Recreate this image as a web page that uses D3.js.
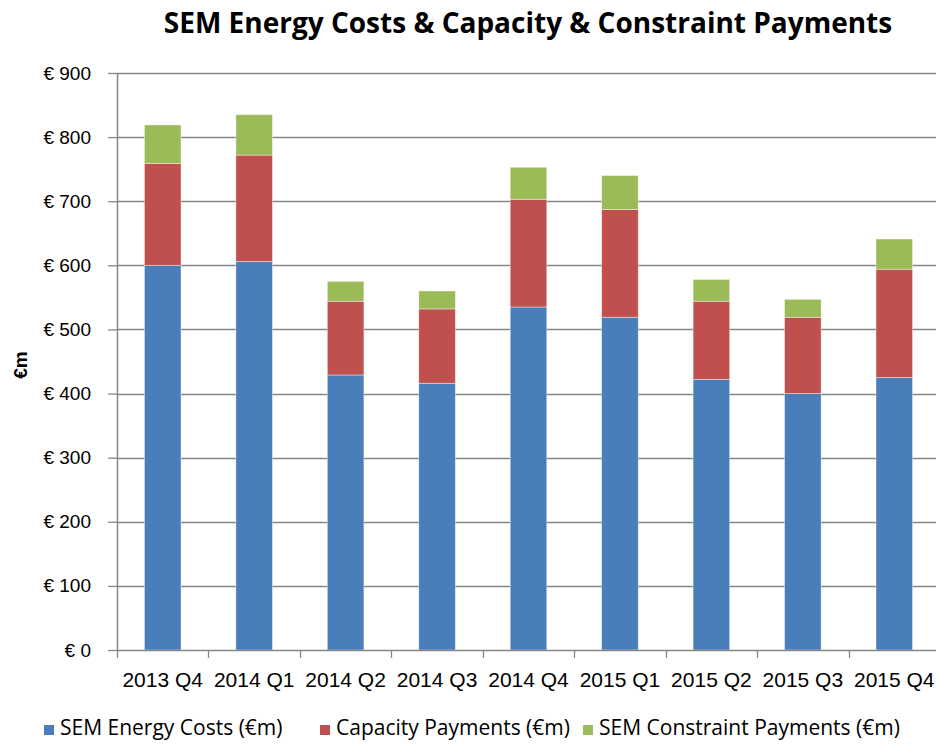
<!DOCTYPE html>
<html>
<head>
<meta charset="utf-8">
<script src="https://cdn.jsdelivr.net/npm/d3@7"></script>
<style>
  body { margin: 0; background: #fff; overflow: hidden; }
  svg { display: block; }
</style>
</head>
<body>
<div class="chart"></div>
<script>
// quarters along the x axis
const quarters = ['2013 Q4', '2014 Q1', '2014 Q2', '2014 Q3', '2014 Q4', '2015 Q1', '2015 Q2', '2015 Q3', '2015 Q4']

// series values (€m)
const energyCosts = [600, 606, 429, 416, 535, 519, 422, 400, 425]
const capacityPayments = [159, 166, 115, 116, 168, 168, 122, 119, 169]
const constraintPayments = [60, 63, 31, 28, 50, 53, 34, 28, 47]

const seriesNames = ['SEM Energy Costs (€m)', 'Capacity Payments (€m)', 'SEM Constraint Payments (€m)']
const seriesColors = ['#4a7ebb', '#c0504d', '#9bbb59']
const yTicks = [0, 100, 200, 300, 400, 500, 600, 700, 800, 900]

const width = 936
const height = 744
const margin = { top: 73, right: -4, bottom: 94, left: 117 }
const innerWidth = width - margin.left - margin.right
const innerHeight = height - margin.top - margin.bottom

const svg = d3.select('.chart')
  .append('svg')
  .attr('width', width)
  .attr('height', height)

const g = svg.append('g')
  .attr('transform', `translate(${margin.left},${margin.top})`)

// build rows for the stack
const rows = quarters.map((q, i) => ({
  quarter: q,
  energy: energyCosts[i],
  capacity: capacityPayments[i],
  constraint: constraintPayments[i]
}))
const keys = ['energy', 'capacity', 'constraint']
const stacked = d3.stack().keys(keys)(rows)

const x = d3.scaleBand()
  .domain(quarters)
  .range([0, innerWidth])
  .paddingInner(0.6)
  .paddingOuter(0.3)

const y = d3.scaleLinear()
  .domain([0, 900])
  .range([innerHeight, 0])

// gridlines
g.append('g')
  .attr('class', 'grid')
  .selectAll('line')
  .data(yTicks.filter(d => d > 0))
  .join('line')
  .attr('x1', 0)
  .attr('x2', innerWidth)
  .attr('y1', d => Math.round(y(d)) + 0.5)
  .attr('y2', d => Math.round(y(d)) + 0.5)
  .attr('stroke', '#868686')
  .attr('stroke-width', 1.3)

// y axis
const yAxis = g.append('g')
  .call(d3.axisLeft(y).tickValues(yTicks).tickSize(9).tickPadding(17).tickFormat(d => '€ ' + d))
yAxis.selectAll('line').attr('stroke', '#868686').attr('stroke-width', 1.3)
yAxis.select('.domain').attr('stroke', '#868686').attr('stroke-width', 1.5).attr('d', `M0.5,0V${innerHeight}`)
yAxis.selectAll('text')
  .attr('font-family', 'Liberation Sans, Arial, sans-serif')
  .attr('font-size', 19)
  .attr('fill', '#000')

// bars
g.append('g')
  .selectAll('g')
  .data(stacked)
  .join('g')
  .attr('fill', (d, i) => seriesColors[i])
  .selectAll('rect')
  .data(d => d)
  .join('rect')
  .attr('x', d => x(d.data.quarter))
  .attr('y', d => y(d[1]))
  .attr('width', x.bandwidth())
  .attr('height', d => y(d[0]) - y(d[1]))
  .attr('stroke', '#fff')
  .attr('stroke-opacity', 0.5)
  .attr('stroke-width', 0.8)

// x axis with ticks between categories
const xAxis = g.append('g')
  .attr('transform', `translate(0,${innerHeight})`)
const step = x.step()
xAxis.append('line')
  .attr('x1', 0).attr('x2', innerWidth)
  .attr('y1', 0.5).attr('y2', 0.5)
  .attr('stroke', '#868686').attr('stroke-width', 1.5)
xAxis.selectAll('.tick')
  .data(d3.range(quarters.length + 1))
  .join('line')
  .attr('class', 'tick')
  .attr('x1', d => Math.round(d * step) + 0.5)
  .attr('x2', d => Math.round(d * step) + 0.5)
  .attr('y1', 0)
  .attr('y2', 8)
  .attr('stroke', '#868686').attr('stroke-width', 1.3)
xAxis.selectAll('.label')
  .data(quarters)
  .join('text')
  .attr('class', 'label')
  .attr('x', d => x(d) + x.bandwidth() / 2)
  .attr('y', 37)
  .attr('text-anchor', 'middle')
  .attr('font-family', 'Liberation Sans, Arial, sans-serif')
  .attr('font-size', 21)
  .attr('fill', '#000')
  .text(d => d)

// y axis title
svg.append('text')
  .attr('transform', `translate(27,365) rotate(-90)`)
  .attr('text-anchor', 'middle')
  .attr('font-family', 'Liberation Sans, Arial, sans-serif')
  .attr('font-weight', 'bold')
  .attr('font-size', 19)
  .attr('fill', '#000')
  .text('€m')

// chart title
svg.append('text')
  .attr('x', 528)
  .attr('y', 33)
  .attr('text-anchor', 'middle')
  .attr('font-family', 'Open Sans, sans-serif')
  .attr('font-weight', 'bold')
  .attr('font-size', 28)
  .attr('fill', '#000')
  .text('SEM Energy Costs & Capacity & Constraint Payments')

// legend
const legendX = [44, 320, 583]
const legend = svg.append('g')
  .selectAll('g')
  .data(seriesNames)
  .join('g')
  .attr('transform', (d, i) => `translate(${legendX[i]},735)`)
legend.append('rect')
  .attr('x', 0).attr('y', -10)
  .attr('width', 10).attr('height', 10)
  .attr('fill', (d, i) => seriesColors[i])
legend.append('text')
  .attr('x', 16)
  .attr('y', 0)
  .attr('font-family', 'Open Sans, sans-serif')
  .attr('font-size', 21)
  .attr('fill', '#000')
  .text(d => d)
</script>
</body>
</html>
